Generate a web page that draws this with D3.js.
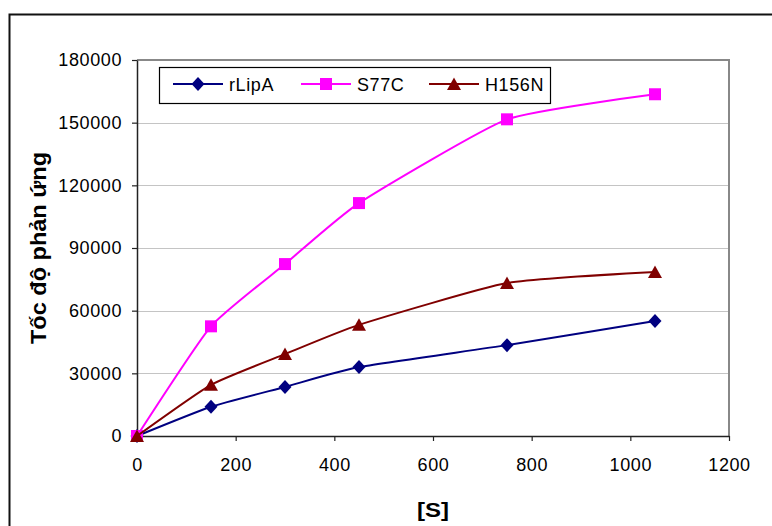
<!DOCTYPE html>
<html>
<head>
<meta charset="utf-8">
<script src="https://cdn.jsdelivr.net/npm/d3@7"></script>
<style>
    body { margin: 0; background: #fff; }
    svg { display: block; font-family: "Liberation Sans", Arial, sans-serif; }
</style>
</head>
<body>
<div id="chart"></div>
<script>
// substrate concentration [S]
var substrate = [0, 150, 300, 450, 750, 1050];

// reaction rate per enzyme
var rLipA = [0, 14000, 23500, 33000, 43500, 55000];
var s77c = [0, 52500, 82300, 111500, 151600, 163600];
var h156n = [0, 24500, 39200, 53200, 73200, 78500];

var seriesNames = ['rLipA', 'S77C', 'H156N'];
var seriesColors = ['#000080', '#FF00FF', '#800000'];
var seriesMarkers = ['diamond', 'square', 'triangle'];

var xTicks = [0, 200, 400, 600, 800, 1000, 1200];
var yTicks = [0, 30000, 60000, 90000, 120000, 150000, 180000];

var xLabel = '[S]';
var yLabel = 'Tốc độ phản ứng';

// marker shapes, centred on 0,0
function markerPath(type){
    if(type == 'diamond'){ return 'M0,-7L6.5,0L0,7L-6.5,0Z'; }
    if(type == 'square'){ return 'M-6,-6H6V6H-6Z'; }
    return 'M0,-6.5L7,6H-7Z';
}

function drawChart(){
    var width = 772, height = 526;
    var left = 137, right = 729, top = 60, bottom = 436;

    var svg = d3.select('#chart').append('svg')
        .attr('width', width)
        .attr('height', height);

    // outer chart border (runs off the picture)
    svg.append('rect')
        .attr('x', 9.5).attr('y', 14.5)
        .attr('width', 900).attr('height', 700)
        .attr('fill', 'none')
        .attr('stroke', '#111')
        .attr('stroke-width', 2);

    var x = d3.scaleLinear().domain([0, 1200]).range([left, right]);
    var y = d3.scaleLinear().domain([0, 180000]).range([bottom, top]);

    // gridlines
    svg.append('g')
        .selectAll('line')
        .data(yTicks.slice(1, -1))
        .enter().append('line')
            .attr('x1', left).attr('x2', right)
            .attr('y1', function(d){ return Math.round(y(d)) + 0.5; })
            .attr('y2', function(d){ return Math.round(y(d)) + 0.5; })
            .attr('stroke', '#c4c4c4')
            .attr('stroke-width', 1);

    // plot area border top/right
    svg.append('path')
        .attr('d', 'M' + left + ',' + top + 'H' + right + 'V' + bottom)
        .attr('fill', 'none')
        .attr('stroke', '#888')
        .attr('stroke-width', 2);

    // axes
    var xAxis = svg.append('g')
        .attr('transform', 'translate(0,' + bottom + ')')
        .call(d3.axisBottom(x).tickValues(xTicks).tickFormat(d3.format('d'))
            .tickSize(5).tickPadding(17).tickSizeOuter(0));

    var yAxis = svg.append('g')
        .attr('transform', 'translate(' + left + ',0)')
        .call(d3.axisLeft(y).tickValues(yTicks).tickFormat(d3.format('d'))
            .tickSize(5).tickPadding(10).tickSizeOuter(0));

    [xAxis, yAxis].forEach(function(axis){
        axis.select('.domain').attr('stroke', '#222').attr('stroke-width', 1.5);
        axis.selectAll('.tick line').attr('stroke', '#222').attr('stroke-width', 1.2);
        axis.selectAll('.tick text')
            .attr('fill', '#000')
            .style('font-family', '"Liberation Sans", Arial, sans-serif')
            .style('font-size', '18px')
            .style('letter-spacing', '0.6px');
    });

    // series lines and markers
    var values = [rLipA, s77c, h156n];
    var line = d3.line()
        .x(function(d){ return x(d[0]); })
        .y(function(d){ return y(d[1]); })
        .curve(d3.curveCardinal.tension(0.5));

    values.forEach(function(vals, s){
        var points = substrate.map(function(v, i){ return [v, vals[i]]; });
        var g = svg.append('g');

        g.append('path')
            .datum(points)
            .attr('d', line)
            .attr('fill', 'none')
            .attr('stroke', seriesColors[s])
            .attr('stroke-width', 2);

        g.selectAll('path.marker')
            .data(points)
            .enter().append('path')
                .attr('class', 'marker')
                .attr('d', markerPath(seriesMarkers[s]))
                .attr('transform', function(d){ return 'translate(' + x(d[0]) + ',' + y(d[1]) + ')'; })
                .attr('fill', seriesColors[s]);
    });

    // legend
    var legend = svg.append('g');
    legend.append('rect')
        .attr('x', 159.5).attr('y', 67.5)
        .attr('width', 391).attr('height', 36)
        .attr('fill', '#fff')
        .attr('stroke', '#000')
        .attr('stroke-width', 1.2);

    var items = legend.selectAll('g.item')
        .data(seriesNames)
        .enter().append('g')
            .attr('class', 'item')
            .attr('transform', function(d, i){ return 'translate(' + (173 + i * 128) + ',84)'; });

    items.append('line')
        .attr('x1', 0).attr('x2', 50)
        .attr('stroke', function(d, i){ return seriesColors[i]; })
        .attr('stroke-width', 2);

    items.append('path')
        .attr('d', function(d, i){ return markerPath(seriesMarkers[i]); })
        .attr('transform', 'translate(25,0)')
        .attr('fill', function(d, i){ return seriesColors[i]; });

    items.append('text')
        .attr('x', 56).attr('y', 7)
        .style('font-size', '18px')
        .style('letter-spacing', '0.6px')
        .text(function(d){ return d; });

    // axis titles
    svg.append('text')
        .attr('x', 433).attr('y', 517)
        .attr('text-anchor', 'middle')
        .attr('textLength', 32)
        .attr('lengthAdjust', 'spacingAndGlyphs')
        .style('font-size', '21px')
        .style('font-weight', 'bold')
        .text(xLabel);

    svg.append('text')
        .attr('transform', 'translate(46,248) rotate(-90)')
        .attr('text-anchor', 'middle')
        .attr('textLength', 192)
        .attr('lengthAdjust', 'spacingAndGlyphs')
        .style('font-size', '22px')
        .style('font-weight', 'bold')
        .text(yLabel);
}

drawChart();
</script>
</body>
</html>
